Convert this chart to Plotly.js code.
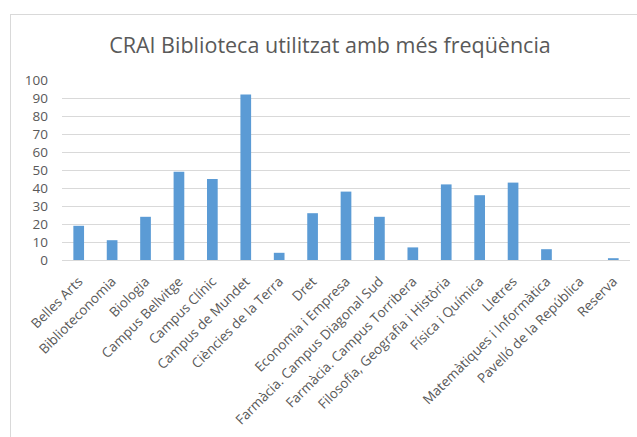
<!DOCTYPE html>
<html>
<head>
<meta charset="utf-8">
<script src="https://cdn.plot.ly/plotly-3.0.1.min.js"></script>
<style>
html,body{margin:0;padding:0;background:#fff;}
#wrap{position:relative;width:637px;height:437px;overflow:hidden;}
#chart{width:637px;height:437px;}
#frame{position:absolute;left:10px;top:14px;width:700px;height:500px;border-top:1px solid #d9d9d9;border-left:1px solid #d9d9d9;pointer-events:none;}
</style>
</head>
<body>
<div id="wrap"><div id="chart"></div><div id="frame"></div></div>
<script>
const categories = ["Belles Arts","Biblioteconomia","Biologia","Campus Bellvitge","Campus Clínic","Campus de Mundet","Ciències de la Terra","Dret","Economia i Empresa","Farmàcia. Campus Diagonal Sud","Farmàcia. Campus Torribera","Filosofia, Geografia i Història","Física i Química","Lletres","Matemàtiques i Informàtica","Pavelló de la República","Reserva"];
const values = [19,11,24,49,45,92,4,26,38,24,7,42,36,43,6,0,1];
const yTicks = [0,10,20,30,40,50,60,70,80,90,100];
const titleText = "CRAI Biblioteca utilitzat amb més freqüència";

const font = "'Open Sans', sans-serif";
Plotly.newPlot("chart", [{
  type: "bar",
  x: categories,
  y: values,
  marker: {color: "#5b9bd5"},
  hoverinfo: "x+y"
}], {
  width: 637, height: 437,
  margin: {l: 62, r: 7, t: 80, b: 177},
  paper_bgcolor: "#fff", plot_bgcolor: "#fff",
  bargap: 0.68,
  showlegend: false,
  title: {text: titleText, x: 0.518, xanchor: "center", y: 0.897, yanchor: "middle",
          font: {family: font, size: 21.5, color: "#595959"}},
  xaxis: {
    tickangle: -45, tickfont: {family: font, size: 13.5, color: "#595959"},
    showgrid: false, showline: false, ticks: "", automargin: false, ticklabelstandoff: 10
  },
  yaxis: {
    range: [0, 100], tickvals: yTicks, ticktext: yTicks.map(String),
    tickfont: {family: font, size: 13.5, color: "#595959"},
    gridcolor: "#d9d9d9", gridwidth: 1, zeroline: true, zerolinecolor: "#d9d9d9", zerolinewidth: 1,
    showline: false, ticks: "", ticklabelstandoff: 13, automargin: false
  }
}, {displayModeBar: false, staticPlot: true});
</script>
</body>
</html>
